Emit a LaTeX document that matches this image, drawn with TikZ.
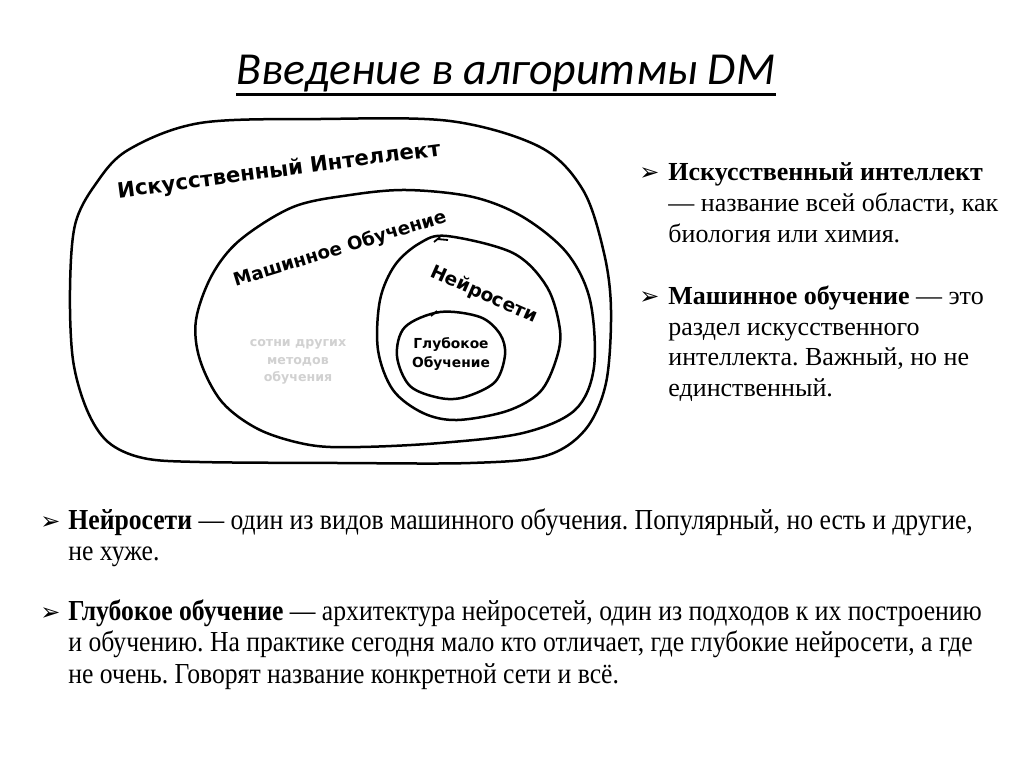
\documentclass[tikz,border=0pt]{standalone}
\usepackage{fontspec}
\setmainfont{Liberation Serif}
\newfontfamily\titlefont{Carlito}
\newfontfamily\sketchfont{DejaVu Sans}
\newfontfamily\bulletfont{DejaVu Sans}
\newfontfamily\narrowfont[FakeStretch=0.885]{Liberation Serif}
\usepackage{tikz}
\frenchspacing

\begin{document}
\begin{tikzpicture}[x=0.5pt, y=-0.5pt]

        % Styles
        \tikzset{blob/.style={draw=black, line width=1.25pt, smooth cycle, tension=0.55},
                 sketch/.style={font=\sketchfont\bfseries\fontsize{10.6}{12}\selectfont, inner sep=0pt},
                 bullet/.style={font=\bulletfont\fontsize{12}{13}\selectfont, anchor=base west, inner sep=0pt},
                 rline/.style={font=\fontsize{13}{15.5}\selectfont, anchor=base west, inner sep=0pt},
                 bline/.style={font=\narrowfont\fontsize{14.5}{15.5}\selectfont, anchor=base west, inner sep=0pt}}

        % Page
        \fill[white] (0,0) rectangle (1024,767);
        \useasboundingbox (0,0) rectangle (1024,767);

        % =================================================================
        % 1. TITLE
        % =================================================================
        \node[font=\titlefont\itshape\fontsize{22.9}{27}\selectfont, inner sep=0pt, anchor=base] (title) at (506,84) {Введение в алгоритмы DM};
        \draw[line width=1.5pt] ([yshift=-5pt]title.base west) -- ([yshift=-5pt]title.base east);

        % =================================================================
        % 2. NESTED REGIONS
        % =================================================================

        % Outer region
        \draw[blob] plot coordinates {(200,123) (320,119) (450,121) (540,147) (583,190) (604,253) (611,310) (606,383) (585,430) (545,456) (470,463) (340,463) (200,462) (143,458) (108,442) (87,410) (73,360) (70,290) (75,225) (95,185) (128,150)};

        % Machine learning region
        \draw[blob] plot coordinates {(240,240) (293,207) (350,195) (407,190) (473,197) (523,217) (567,253) (590,300) (594,367) (575,410) (523,433) (440,443) (360,447) (310,445) (260,430) (222,402) (200,360) (196,320) (212,275)};

        % Neural network region
        \draw[blob] plot coordinates {(447,236) (513,253) (547,287) (560,330) (556,360) (540,392) (507,411) (457,420) (423,413) (393,390) (378,350) (380,300) (395,265) (420,243)};
        \draw[line width=0.9pt] (434,242) -- (440,237) (437,239) -- (448,240);

        % Deep learning region
        \draw[blob] plot coordinates {(440,312) (480,317) (500,334) (505,355) (495,382) (465,397) (440,398) (410,386) (397,356) (405,327)};
        \draw[line width=0.9pt] (431,316) -- (437,311);

        % Region labels
        \node[sketch, rotate=7.5] (ai) at (279,171) {Искусственный Интеллект};
        \node[sketch, font=\sketchfont\bfseries\fontsize{9.1}{11}\selectfont, rotate=17] (ml) at (340,249) {Машинное Обучение};
        \node[sketch, font=\sketchfont\bfseries\fontsize{9.3}{11}\selectfont, rotate=-24] (nn) at (484,295) {Нейросети};
        \node[sketch, font=\sketchfont\bfseries\fontsize{6.9}{9.5}\selectfont, align=center] (dl) at (451,354) {Глубокое\\Обучение};
        \node[sketch, font=\sketchfont\bfseries\fontsize{6.3}{8.8}\selectfont, text=black!18, align=center] (other) at (298,362) {сотни других\\методов\\обучения};

        % =================================================================
        % 3. TEXT ON THE RIGHT
        % =================================================================
        \node[bullet] (ba) at (639,180) {➢};
        \node[rline] (a1) at (668,180) {\textbf{Искусственный интеллект}};
        \node[rline] (a2) at (668,211) {— название всей области, как};
        \node[rline] (a3) at (668,242) {биология или химия.};

        \node[bullet] (bb) at (639,304) {➢};
        \node[rline] (b1) at (668,304) {\textbf{Машинное обучение} — это};
        \node[rline] (b2) at (668,335) {раздел искусственного};
        \node[rline] (b3) at (668,365) {интеллекта. Важный, но не};
        \node[rline] (b4) at (668,396) {единственный.};

        % =================================================================
        % 4. TEXT BELOW
        % =================================================================
        \node[bullet] (bc) at (40,529) {➢};
        \node[bline] (c1) at (68,529) {\textbf{Нейросети} — один из видов машинного обучения. Популярный, но есть и другие,};
        \node[bline] (c2) at (68,560) {не хуже.};

        \node[bullet] (bd) at (40,620) {➢};
        \node[bline] (d1) at (68,620) {\textbf{Глубокое обучение} — архитектура нейросетей, один из подходов к их построению};
        \node[bline] (d2) at (68,651) {и обучению. На практике сегодня мало кто отличает, где глубокие нейросети, а где};
        \node[bline] (d3) at (68,683) {не очень. Говорят название конкретной сети и всё.};

    \end{tikzpicture}
\end{document}
